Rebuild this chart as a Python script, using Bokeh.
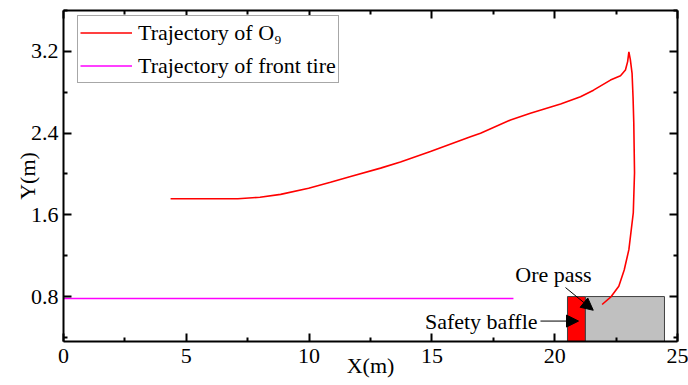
from bokeh.plotting import figure
from bokeh.models import (Range1d, FixedTicker, LinearAxis, Legend, LegendItem,
                          Arrow, NormalHead, Label)
from bokeh.embed import file_html
from bokeh.resources import INLINE

# ---- data ----
o9_x = [4.36, 6.80, 7.10, 8.00, 8.84, 9.98, 10.87, 11.69, 12.91, 13.72, 14.94,
        16.57, 16.98, 18.20, 19.01, 20.24, 21.05, 21.58, 22.27, 22.68, 22.88,
        22.97, 23.02, 23.08, 23.15, 23.19, 23.22, 23.25, 23.20, 23.02, 22.83,
        22.61, 22.30, 21.93]
o9_y = [1.757, 1.757, 1.758, 1.772, 1.800, 1.860, 1.918, 1.975, 2.057, 2.118,
        2.219, 2.363, 2.399, 2.528, 2.594, 2.685, 2.756, 2.820, 2.919, 2.962,
        3.017, 3.100, 3.195, 3.120, 2.985, 2.750, 2.499, 2.011, 1.620, 1.259,
        1.060, 0.901, 0.800, 0.722]

tire_x = [0.0, 18.32]
tire_y = [0.78, 0.78]

block_left = [20.52, 21.25]
block_right = [21.25, 24.47]
block_top = [0.80, 0.80]
block_colors = ["#ff0000", "#c0c0c0"]

x_ticks = [0, 5, 10, 15, 20, 25]
x_minor = [2.5, 7.5, 12.5, 17.5, 22.5]
y_ticks = [0.8, 1.6, 2.4, 3.2]
y_minor = [0.4, 1.2, 2.0, 2.8, 3.6]

X_MIN, X_MAX = 0, 25
Y_MIN, Y_MAX = 0.36, 3.6

ann_texts = ["Ore pass", "Safety baffle"]
ann_text_x = [19.95, 19.30]
ann_text_y = [1.015, 0.56]
arrow_start = [(20.44, 0.888), (19.42, 0.56)]
arrow_end = [(21.57, 0.666), (20.97, 0.56)]

FONT = "'Liberation Serif'"
FS = "22px"

W, H = 688, 385
B_LEFT, B_RIGHT, B_TOP, B_BOTTOM = 63, 11, 10, 44
FH = H - B_TOP - B_BOTTOM
p = figure(width=W, height=H, output_backend="svg", toolbar_location=None,
           x_range=Range1d(X_MIN, X_MAX), y_range=Range1d(Y_MIN, Y_MAX),
           min_border_left=B_LEFT, min_border_right=B_RIGHT, min_border_top=B_TOP,
           min_border_bottom=B_BOTTOM)
p.grid.visible = False
p.outline_line_color = None
p.background_fill_color = "white"
p.border_fill_color = "white"

xt = FixedTicker(ticks=x_ticks, minor_ticks=x_minor)
yt = FixedTicker(ticks=y_ticks, minor_ticks=y_minor)


def style_axis(ax, labels=True):
    ax.axis_line_width = 2
    ax.axis_line_color = "black"
    ax.major_tick_in = 8
    ax.major_tick_out = 0
    ax.minor_tick_in = 4
    ax.minor_tick_out = 0
    ax.major_tick_line_width = 2
    ax.minor_tick_line_width = 2
    ax.major_tick_line_color = "black"
    ax.minor_tick_line_color = "black"
    ax.major_label_text_font = FONT
    ax.axis_label_text_font = FONT
    ax.axis_label_text_font_size = FS
    ax.axis_label_text_font_style = "normal"
    ax.axis_label_text_color = "black"
    if labels:
        ax.major_label_text_font_size = FS
        ax.major_label_text_color = "black"
    else:
        ax.major_label_text_font_size = "0px"
        ax.major_label_text_color = None
        ax.major_label_standoff = 0


xa = p.xaxis[0]
xa.ticker = xt
style_axis(xa)
xa.axis_label = "X(m)"
xa.major_label_standoff = 7
xa.axis_label_standoff = -13

ya = p.yaxis[0]
ya.ticker = yt
style_axis(ya)
ya.axis_label = "Y(m)"
ya.major_label_standoff = 5
ya.axis_label_standoff = -12

top_ax = LinearAxis(ticker=xt)
style_axis(top_ax, labels=False)
p.add_layout(top_ax, "above")

right_ax = LinearAxis(ticker=yt)
style_axis(right_ax, labels=False)
p.add_layout(right_ax, "right")

# blocks (safety baffle and ore pass)
p.quad(left=block_left, right=block_right, bottom=[Y_MIN, Y_MIN], top=block_top,
       fill_color=block_colors, line_color="#404040", line_width=1)

# trajectories
r_o9 = p.line(o9_x, o9_y, line_color="#ff0000", line_width=1.6)
r_tire = p.line(tire_x, tire_y, line_color="#ff00ff", line_width=1.5)

# annotations
for (xs, ys), (xe, ye) in zip(arrow_start, arrow_end):
    p.add_layout(Arrow(end=NormalHead(size=12, fill_color="black", line_color="black"),
                       x_start=xs, y_start=ys, x_end=xe, y_end=ye,
                       line_color="black", line_width=1))
p.add_layout(Label(x=ann_text_x[0], y=ann_text_y[0], text=ann_texts[0],
                   text_font=FONT, text_font_size=FS, text_align="center",
                   text_baseline="middle", text_color="black"))
p.add_layout(Label(x=ann_text_x[1], y=ann_text_y[1], text=ann_texts[1],
                   text_font=FONT, text_font_size=FS, text_align="right",
                   text_baseline="middle", text_color="black"))

# legend
legend = Legend(items=[LegendItem(label="Trajectory of O\u2089", renderers=[r_o9]),
                       LegendItem(label="Trajectory of front tire", renderers=[r_tire])],
                location=(14, FH - 73),
                label_text_font=FONT, label_text_font_size=FS,
                label_text_color="black",
                glyph_width=52, glyph_height=29, label_height=29,
                label_standoff=6, padding=2, spacing=4, margin=0,
                border_line_color="#505050", border_line_width=1,
                background_fill_color="white", background_fill_alpha=1)
p.add_layout(legend, "center")

open("out.html", "w").write(file_html(p, INLINE))
